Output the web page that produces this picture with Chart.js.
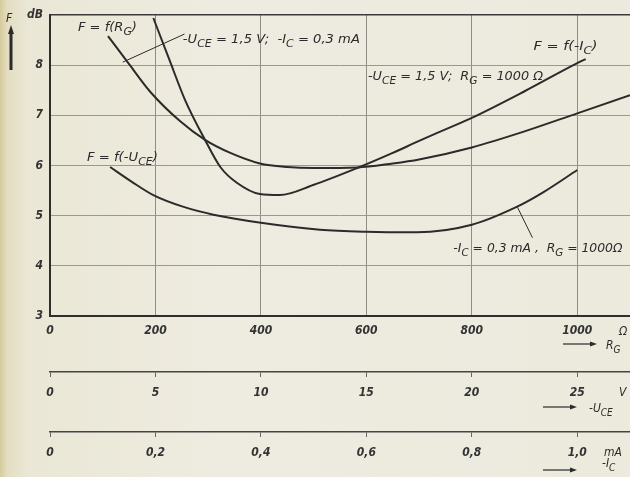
<!DOCTYPE html>
<html>
<head>
<meta charset="utf-8">
<script src="https://cdn.jsdelivr.net/npm/chart.js@4.4.1/dist/chart.umd.min.js"></script>
<style>
  html, body { margin: 0; padding: 0; }
  body {
    width: 630px; height: 477px; overflow: hidden;
    background: linear-gradient(to right, #d6cb9c 0px, #e3ddc1 7px, #eae7d6 28px, #eeece0 220px, #eceadd 630px);
  }
</style>
</head>
<body>
<canvas id="noiseChart" width="630" height="477"></canvas>
<script>
// F = f(R_G), -U_CE = 1,5 V; -I_C = 0,3 mA
const rgValues = [110, 150, 190, 247, 294, 342, 398, 450, 500, 583, 650, 700, 800, 900, 1000, 1100];
const fOverRg = [8.58, 8.02, 7.47, 6.88, 6.51, 6.25, 6.04, 5.97, 5.95, 5.96, 6.04, 6.12, 6.36, 6.68, 7.04, 7.4];

// F = f(-U_CE), -I_C = 0,3 mA; R_G = 1000 Ohm
const uceValues = [2.85, 3.9, 4.9, 6.3, 7.75, 10, 12.8, 15, 17.4, 20, 22.15, 23.4, 25];
const fOverUce = [5.97, 5.67, 5.41, 5.18, 5.02, 4.86, 4.72, 4.68, 4.67, 4.82, 5.18, 5.47, 5.91];

// F = f(-I_C), -U_CE = 1,5 V; R_G = 1000 Ohm
const icValues = [0.196, 0.226, 0.256, 0.294, 0.323, 0.355, 0.398, 0.436, 0.499, 0.583, 0.65, 0.7, 0.75, 0.8, 0.9, 1.0, 1.016];
const fOverIc = [8.94, 8.12, 7.31, 6.51, 5.97, 5.65, 5.43, 5.41, 5.61, 5.95, 6.25, 6.49, 6.72, 6.95, 7.48, 8.04, 8.12];

const rgTicks = [0, 200, 400, 600, 800, 1000];
const uceTicks = [0, 5, 10, 15, 20, 25];
const icTicks = [0, 0.2, 0.4, 0.6, 0.8, 1.0];
const icTickLabels = ['0', '0,2', '0,4', '0,6', '0,8', '1,0'];
const fTicks = [3, 4, 5, 6, 7, 8, 9];

const FONT = '"DejaVu Sans Condensed", "Liberation Sans Narrow", "DejaVu Sans", sans-serif';
const INK = '#2b2b2b';

// curve labels: position in (R_G, F) units, width in px, text parts [text, subscript]
const curveNotes = [
  { at: [53, 8.68], w: 59, parts: [['F = f(R'], ['G', 1], [')']] },
  { at: [252, 8.44], w: 177, parts: [['-U'], ['CE', 1], [' = 1,5 V;  -I'], ['C', 1], [' = 0,3 mA']] },
  { at: [917, 8.3], w: 64, parts: [['F = f(-I'], ['C', 1], [')']] },
  { at: [603, 7.7], w: 175, parts: [['-U'], ['CE', 1], [' = 1,5 V;  R'], ['G', 1], [' = 1000 Ω']] },
  { at: [70, 6.09], w: 71, parts: [['F = f(-U'], ['CE', 1], [')']] },
  { at: [765, 4.28], w: 169, parts: [['-I'], ['C', 1], [' = 0,3 mA ,  R'], ['G', 1], [' = 1000Ω']] }
];
const leaders = [
  [[138, 8.06], [255, 8.62]],
  [[886, 5.18], [915, 4.56]]
];

function toPoints(xs, ys) {
  return xs.map((v, i) => ({ x: v, y: ys[i] }));
}

function drawRich(ctx, x, y, parts, size, width) {
  const big = 'italic ' + size + 'px ' + FONT;
  const small = 'italic ' + Math.round(size * 0.8) + 'px ' + FONT;
  let total = 0;
  parts.forEach(p => { ctx.font = p[1] ? small : big; total += ctx.measureText(p[0]).width; });
  ctx.save();
  ctx.translate(x, y);
  if (width) ctx.scale(width / total, 1);
  ctx.textBaseline = 'alphabetic';
  ctx.textAlign = 'left';
  ctx.fillStyle = INK;
  let cx = 0;
  parts.forEach(p => {
    ctx.font = p[1] ? small : big;
    ctx.fillText(p[0], cx, p[1] ? 4 : 0);
    cx += ctx.measureText(p[0]).width;
  });
  ctx.restore();
}

function arrowRight(ctx, x1, x2, y) {
  ctx.beginPath();
  ctx.moveTo(x1, y);
  ctx.lineTo(x2 - 5, y);
  ctx.stroke();
  ctx.beginPath();
  ctx.moveTo(x2, y);
  ctx.lineTo(x2 - 7, y - 2.5);
  ctx.lineTo(x2 - 7, y + 2.5);
  ctx.closePath();
  ctx.fill();
}

const notesPlugin = {
  id: 'notes',
  afterDraw(chart) {
    const ctx = chart.ctx;
    const { x, y, x2, x3 } = chart.scales;
    ctx.save();
    ctx.strokeStyle = INK;
    ctx.fillStyle = INK;

    curveNotes.forEach(n => {
      drawRich(ctx, x.getPixelForValue(n.at[0]), y.getPixelForValue(n.at[1]), n.parts, 12, n.w);
    });

    ctx.lineWidth = 1;
    leaders.forEach(l => {
      ctx.beginPath();
      ctx.moveTo(x.getPixelForValue(l[0][0]), y.getPixelForValue(l[0][1]));
      ctx.lineTo(x.getPixelForValue(l[1][0]), y.getPixelForValue(l[1][1]));
      ctx.stroke();
    });

    // F axis name and upward arrow
    drawRich(ctx, 6, 22, [['F']], 12);
    ctx.lineWidth = 3;
    ctx.beginPath();
    ctx.moveTo(11, 70);
    ctx.lineTo(11, 32);
    ctx.stroke();
    ctx.beginPath();
    ctx.moveTo(11, 25);
    ctx.lineTo(8, 34);
    ctx.lineTo(14, 34);
    ctx.closePath();
    ctx.fill();

    // units and arrows for the three abscissae
    ctx.lineWidth = 1.2;
    drawRich(ctx, 619, x.top + 19, [['Ω']], 12);
    arrowRight(ctx, 563, 597, x.top + 28);
    drawRich(ctx, 606, x.top + 33, [['R'], ['G', 1]], 12);

    drawRich(ctx, 619, x2.top + 24, [['V']], 12);
    arrowRight(ctx, 543, 577, x2.top + 35);
    drawRich(ctx, 589, x2.top + 40, [['-U'], ['CE', 1]], 12);

    drawRich(ctx, 604, x3.top + 24, [['mA']], 12);
    arrowRight(ctx, 543, 577, x3.top + 38);
    drawRich(ctx, 602, x3.top + 35, [['-I'], ['C', 1]], 12);
    ctx.restore();
  }
};

const tickFont = { family: FONT, size: 12, style: 'italic', weight: 'bold' };

const curveStyle = {
  borderColor: INK,
  borderWidth: 2,
  pointRadius: 0,
  fill: false,
  cubicInterpolationMode: 'monotone'
};

new Chart(document.getElementById('noiseChart').getContext('2d'), {
  type: 'line',
  data: {
    datasets: [
      Object.assign({ label: 'F = f(R_G)', data: toPoints(rgValues, fOverRg), xAxisID: 'x' }, curveStyle),
      Object.assign({ label: 'F = f(-U_CE)', data: toPoints(uceValues, fOverUce), xAxisID: 'x2' }, curveStyle),
      Object.assign({ label: 'F = f(-I_C)', data: toPoints(icValues, fOverIc), xAxisID: 'x3' }, curveStyle)
    ]
  },
  options: {
    responsive: false,
    animation: false,
    layout: { padding: { top: 15, right: 0, bottom: 0, left: 0 } },
    plugins: { legend: { display: false }, tooltip: { enabled: false } },
    scales: {
      x: {
        type: 'linear', position: 'bottom', weight: 0,
        min: 0, max: 1100,
        afterBuildTicks: s => { s.ticks = rgTicks.map(v => ({ value: v })); },
        afterFit: s => { s.height = 56; },
        grid: {
          drawTicks: false,
          color: c => (c.tick && c.tick.value === 0 ? 'rgba(0,0,0,0)' : '#8e8d86'),
          lineWidth: 1
        },
        border: { display: true, color: '#2e2e2e', width: 2 },
        ticks: {
          font: tickFont, color: '#333', padding: 8, maxRotation: 0, autoSkip: false,
          callback: v => String(v)
        }
      },
      x2: {
        type: 'linear', position: 'bottom', weight: 1,
        min: 0, max: 27.5,
        afterBuildTicks: s => { s.ticks = uceTicks.map(v => ({ value: v })); },
        afterFit: s => { s.height = 60; },
        grid: { drawOnChartArea: false, drawTicks: true, tickLength: 5, color: '#666' },
        border: { display: true, color: '#444', width: 1.5 },
        ticks: {
          font: tickFont, color: '#333', padding: 9, maxRotation: 0, autoSkip: false,
          callback: v => String(v)
        }
      },
      x3: {
        type: 'linear', position: 'bottom', weight: 2,
        min: 0, max: 1.1,
        afterBuildTicks: s => { s.ticks = icTicks.map(v => ({ value: v })); },
        afterFit: s => { s.height = 45; },
        grid: { drawOnChartArea: false, drawTicks: true, tickLength: 5, color: '#666' },
        border: { display: true, color: '#444', width: 1.5 },
        ticks: {
          font: tickFont, color: '#333', padding: 9, maxRotation: 0, autoSkip: false,
          callback: (v, i) => icTickLabels[i]
        }
      },
      y: {
        type: 'linear', position: 'left',
        min: 3, max: 9,
        afterBuildTicks: s => { s.ticks = fTicks.map(v => ({ value: v })); },
        afterFit: s => { s.width = 50; },
        grid: {
          drawTicks: false,
          color: c => {
            if (!c.tick) return '#9a9890';
            if (c.tick.value === 3) return 'rgba(0,0,0,0)';
            return c.tick.value === 9 ? '#3a3a3a' : '#9a9890';
          },
          lineWidth: c => (c.tick && c.tick.value === 9 ? 1.5 : 1)
        },
        border: { display: true, color: '#2e2e2e', width: 2 },
        ticks: {
          font: tickFont, color: '#333', padding: 7,
          callback: v => (v === 9 ? 'dB' : String(v))
        }
      }
    }
  },
  plugins: [notesPlugin]
});
</script>
</body>
</html>
